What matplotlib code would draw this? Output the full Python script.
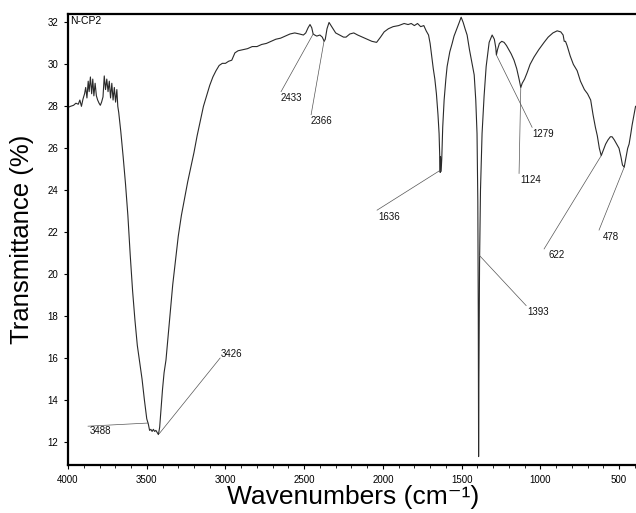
import matplotlib.pyplot as plt
from matplotlib.ticker import MultipleLocator

plt.rcParams['font.family'] = ['Liberation Sans', 'DejaVu Sans']

# FTIR spectrum (wavenumber in cm-1, transmittance in %)
wavenumber = [
    4000, 3985, 3965, 3950, 3935, 3925, 3915, 3905, 3895, 3888, 3880, 3872, 3866, 3858,
    3850, 3843, 3836, 3828, 3820, 3812, 3803, 3795, 3787, 3778, 3770, 3762, 3754, 3746,
    3738, 3730, 3722, 3714, 3706, 3698, 3690, 3684, 3678, 3665, 3650, 3635, 3620, 3605,
    3590, 3575, 3560, 3545, 3530, 3515, 3500, 3490, 3482, 3474, 3466, 3458, 3450, 3442,
    3434, 3426, 3418, 3410, 3400, 3390, 3378, 3365, 3350, 3335, 3320, 3300, 3280, 3260,
    3240, 3220, 3200, 3180, 3160, 3140, 3120, 3100, 3080, 3060, 3040, 3020, 3000, 2980,
    2960, 2940, 2920, 2890, 2860, 2830, 2800, 2770, 2740, 2710, 2680, 2650, 2620, 2590,
    2560, 2530, 2505, 2490, 2475, 2463, 2452, 2443, 2433, 2420, 2400, 2385, 2373, 2366,
    2355, 2342, 2325, 2300, 2275, 2250, 2234, 2210, 2185, 2160, 2130, 2100, 2070, 2040,
    2015, 1992, 1965, 1935, 1900, 1865, 1840, 1820, 1800, 1780, 1760, 1740, 1725, 1710,
    1700, 1690, 1680, 1670, 1660, 1650, 1643, 1638, 1636, 1634, 1630, 1626, 1620, 1611,
    1600, 1592, 1575, 1560, 1548, 1530, 1515, 1503, 1490, 1478, 1465, 1450, 1435, 1420,
    1410, 1402, 1397, 1394, 1392, 1390, 1386, 1380, 1370, 1357, 1344, 1325, 1306, 1292,
    1283, 1279, 1272, 1260, 1245, 1230, 1215, 1200, 1185, 1167, 1150, 1135, 1124, 1115,
    1100, 1084, 1065, 1040, 1010, 976, 950, 920, 893, 870, 855, 848, 840, 830,
    810, 790, 766, 745, 720, 700, 680, 665, 650, 638, 625, 613, 600, 585,
    570, 555, 544, 530, 515, 500, 488, 478, 467, 455, 445, 436, 425, 417,
    405, 395,
]
transmittance = [
    27.95, 28.0, 28.05, 28.15, 28.1, 28.3, 28.0, 28.35, 28.6, 28.9, 28.4, 29.2, 28.7, 29.4,
    28.6, 29.3, 28.5, 29.1, 28.5, 28.3, 28.15, 28.05, 28.2, 28.45, 29.45, 28.8, 29.3, 28.7,
    29.2, 28.4, 29.1, 28.3, 28.9, 28.2, 28.8, 28.0, 27.7, 26.8, 25.6, 24.3, 22.8, 20.9,
    19.2, 17.8, 16.6, 15.8, 15.0, 14.0, 13.1, 12.85, 12.55, 12.6, 12.5, 12.6, 12.5, 12.55,
    12.45, 12.35, 12.7, 13.5, 14.5, 15.3, 15.9, 17.0, 18.3, 19.5, 20.5, 21.8, 22.8, 23.6,
    24.4, 25.1, 25.8, 26.6, 27.3, 28.0, 28.5, 29.0, 29.4, 29.7, 29.95, 30.05, 30.05, 30.15,
    30.2, 30.55, 30.65, 30.7, 30.75, 30.85, 30.85, 30.95, 31.0, 31.1, 31.2, 31.25, 31.35, 31.45,
    31.5, 31.45, 31.4, 31.5, 31.75, 31.9, 31.75, 31.45, 31.4, 31.35, 31.4, 31.3, 31.1, 31.2,
    31.7, 32.0, 31.8, 31.5, 31.4, 31.3, 31.3, 31.45, 31.5, 31.4, 31.3, 31.2, 31.1, 31.05,
    31.3, 31.55, 31.7, 31.8, 31.85, 31.95, 31.9, 31.95, 31.85, 31.95, 31.8, 31.85, 31.6, 31.4,
    31.0, 30.4, 29.8, 29.3, 28.6, 27.6, 26.7, 25.3, 24.85, 25.6, 24.9, 25.5, 27.0, 28.3,
    29.3, 29.9, 30.6, 31.0, 31.35, 31.7, 32.0, 32.25, 32.0, 31.7, 31.4, 30.7, 30.1, 29.5,
    28.3, 26.7, 23.5, 18.0, 11.3, 15.0, 20.5, 24.0, 26.7, 28.5, 29.9, 31.05, 31.4, 31.2,
    30.8, 30.45, 30.7, 31.0, 31.1, 31.05, 30.9, 30.7, 30.5, 30.2, 29.8, 29.3, 28.9, 29.1,
    29.3, 29.6, 30.0, 30.35, 30.7, 31.05, 31.3, 31.5, 31.6, 31.55, 31.4, 31.1, 31.1, 30.9,
    30.4, 30.0, 29.7, 29.2, 28.8, 28.6, 28.3, 27.6, 27.0, 26.6, 26.0, 25.65, 25.9, 26.2,
    26.4, 26.55, 26.55, 26.4, 26.2, 26.0, 25.6, 25.2, 25.1, 25.6, 26.0, 26.2, 26.7, 27.1,
    27.6, 28.0,
]

# peak labels: leader line runs from (line_wn, line_t) to the band (peak_wn, peak_t)
peak_labels = ['3488', '3426', '2433', '2366', '1636', '1393', '1279', '1124', '622', '478']
peak_wn = [3492, 3420, 2443, 2373, 1636, 1388, 1279, 1124, 613, 467]
peak_t = [12.9, 12.4, 31.45, 31.15, 24.95, 20.9, 30.45, 28.9, 25.65, 25.1]
line_wn = [3873, 3034, 2647, 2456, 2037, 1090, 1052, 1135, 976, 627]
line_t = [12.75, 16.0, 28.7, 27.6, 23.05, 18.5, 27.0, 24.8, 21.2, 22.1]
text_wn = [3860, 3028, 2650, 2458, 2030, 1082, 1048, 1128, 948, 605]
text_t = [12.5, 16.2, 28.4, 27.3, 22.7, 18.2, 26.7, 24.5, 20.9, 21.75]

fig = plt.figure(figsize=(6.36, 5.13), dpi=100)
ax = fig.add_axes([0.107, 0.0936, 0.896, 0.879])

ax.plot(wavenumber, transmittance, color='#2a2a2a', lw=0.8)

for lab, pw, pt, lw_, lt, tw, tt in zip(peak_labels, peak_wn, peak_t, line_wn, line_t, text_wn, text_t):
    ax.plot([lw_, pw], [lt, pt], color='#555555', lw=0.5)
    ax.text(tw, tt, lab, fontsize=7, ha='left', va='center', color='#111111')

ax.text(0.003, 0.995, 'N-CP2', transform=ax.transAxes, fontsize=7.5, ha='left', va='top')

ax.set_xlim(4000, 380)
ax.set_ylim(10.9, 32.4)
ax.set_xticks([4000, 3500, 3000, 2500, 2000, 1500, 1000, 500])
ax.xaxis.set_minor_locator(MultipleLocator(100))
ax.set_yticks([12, 14, 16, 18, 20, 22, 24, 26, 28, 30, 32])
ax.tick_params(axis='both', which='major', labelsize=7, length=3, width=0.8, pad=4)
ax.tick_params(axis='x', which='minor', length=2, width=0.6)

for side in ['left', 'bottom', 'top']:
    ax.spines[side].set_linewidth(1.6)
ax.spines['right'].set_visible(False)

ax.set_xlabel('Wavenumbers (cm\u207b\u00b9)', fontsize=19, labelpad=0)
ax.set_ylabel('Transmittance (%)', fontsize=18.5, labelpad=10)

fig.savefig('out.png', dpi=100)
